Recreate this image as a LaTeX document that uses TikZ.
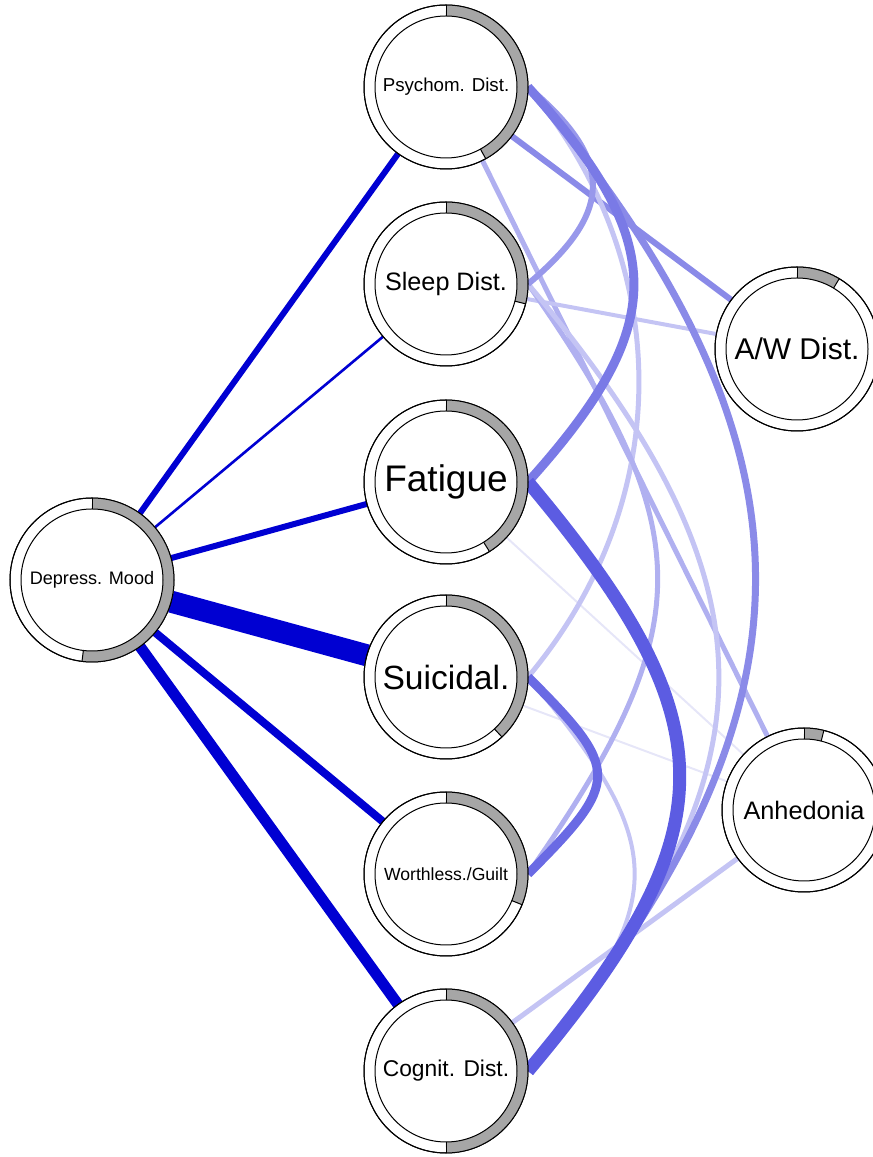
\documentclass[tikz,border=0pt]{standalone}
\usepackage{fontspec}
\setmainfont{Liberation Sans}
\usetikzlibrary{backgrounds}

\definecolor{dmblue}{RGB}{0,0,210}
\definecolor{ringgray}{RGB}{166,166,166}
\definecolor{wone}{RGB}{92,92,226}
\definecolor{wtwo}{RGB}{106,106,228}
\definecolor{wthree}{RGB}{122,122,230}
\definecolor{wfour}{RGB}{138,138,232}
\definecolor{wfive}{RGB}{152,152,235}
\definecolor{wsix}{RGB}{176,176,240}
\definecolor{wseven}{RGB}{196,196,244}
\definecolor{weight}{RGB}{230,230,248}

\begin{document}
\begin{tikzpicture}[x=0.5pt, y=0.5pt,
    symptom/.style={circle, draw=black, line width=0.5pt, fill=white, minimum size=82pt, inner sep=0pt, outer sep=0pt},
    arcedge/.style={bend left=#1}]

        % page as large as the reference
        \useasboundingbox (0,0) rectangle (873,1157);

        % the symptoms: one on the left, six in the middle, two on the right
        \node[symptom, font=\fontsize{9.05}{11}\selectfont] (DM) at (92,577) {Depress. Mood};
        \node[symptom, font=\fontsize{9.35}{11}\selectfont] (Psy) at (446,1070) {Psychom. Dist.};
        \node[symptom, font=\fontsize{12.6}{14}\selectfont] (Sleep) at (446,873) {Sleep Dist.};
        \node[symptom, font=\fontsize{18.5}{20}\selectfont] (Fat) at (446,675) {Fatigue};
        \node[symptom, font=\fontsize{16.8}{18}\selectfont] (Sui) at (446,480) {Suicidal.};
        \node[symptom, font=\fontsize{8.8}{10}\selectfont] (Wor) at (446,283) {Worthless./Guilt};
        \node[symptom, font=\fontsize{11.4}{13}\selectfont] (Cog) at (446,86) {Cognit. Dist.};
        \node[symptom, font=\fontsize{15}{17}\selectfont] (AW) at (797,808) {A/W Dist.};
        \node[symptom, font=\fontsize{12.65}{14}\selectfont] (Anh) at (804,347) {Anhedonia};

        \begin{scope}[on background layer]
        % Depress. Mood to the middle column
        \foreach \t/\w in {Psy/3, Sleep/1.3, Fat/3, Sui/11, Wor/4, Cog/5.5}
                \draw[dmblue, line width=\w pt] (DM) -- (\t);

        % straight ones to the right column
        \draw[wfour, line width=3pt] (Psy) -- (AW);
        \draw[wsix, line width=2.5pt] (Psy) -- (Anh);
        \draw[wseven, line width=2pt] (Sleep) -- (AW);
        \draw[wseven, line width=2.5pt] (Cog) -- (Anh);
        \draw[weight, line width=1pt] (Fat) -- (Anh);
        \draw[weight, line width=1pt] (Sui) -- (Anh);

        % curved ones inside the middle column
        \draw[wseven, line width=2.5pt] (Psy.east) to[arcedge=40, looseness=1.0] (Sui.east);
        \draw[wsix, line width=2.5pt] (Sleep.east) to[arcedge=35, looseness=1.31] (Wor.east);
        \draw[wseven, line width=2.5pt] (Sleep.east) to[arcedge=40, looseness=1.29] (Cog.east);
        \draw[wseven, line width=2pt] (Sui.east) to[arcedge=40, looseness=1.44] (Cog.east);
        \draw[wfive, line width=3pt] (Psy.east) to[arcedge=50, looseness=1.47] (Sleep.east);
        \draw[wfour, line width=3.5pt] (Psy.east) to[arcedge=40, looseness=1.23] (Cog.east);
        \draw[wthree, line width=4.5pt] (Psy.east) to[arcedge=42, looseness=1.37] (Fat.east);
        \draw[wtwo, line width=4.5pt] (Sui.east) to[arcedge=45, looseness=1.71] (Wor.east);
        \draw[wone, line width=6.5pt] (Fat.east) to[arcedge=40, looseness=1.37] (Cog.east);
        \end{scope}

        % the grey ring of each symptom, from the top going clockwise
        \foreach \n/\e in {DM/-97, Psy/-61, Sleep/-14, Fat/-58, Sui/-47, Wor/-22, Cog/-90, AW/59, Anh/76}{
                \draw[ringgray, line width=5.5pt] (\n.center) ++(90:38.25pt) arc[start angle=90, end angle=\e, radius=38.25pt];
                \draw[line width=0.5pt] (\n.center) circle[radius=35.5pt];
                \draw[line width=0.5pt] (\n.center) circle[radius=41pt];
                \draw[line width=0.5pt] (\n.center) ++(90:35.5pt) -- ++(90:5.5pt);
                \draw[line width=0.5pt] (\n.center) ++(\e:35.5pt) -- ++(\e:5.5pt);
        }

\end{tikzpicture}
\end{document}
